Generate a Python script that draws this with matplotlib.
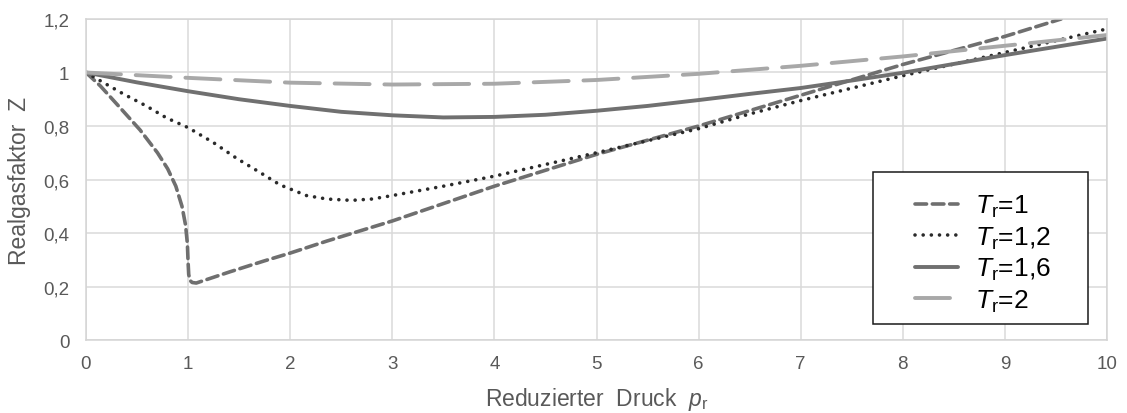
import matplotlib
matplotlib.use("Agg")
import matplotlib.pyplot as plt
from matplotlib.patches import Rectangle

plt.rcParams['font.family'] = ['Liberation Sans', 'DejaVu Sans']
plt.rcParams['mathtext.fontset'] = 'custom'
plt.rcParams['mathtext.rm'] = 'Liberation Sans'
plt.rcParams['mathtext.it'] = 'Liberation Sans:italic'

# values
x_tr1 = [0, 0.14, 0.33, 0.53, 0.7, 0.8, 0.88, 0.94, 0.975, 0.993, 1.0, 1.006, 1.02,
         1.04, 1.08, 1.41, 1.74, 2, 2.36, 3, 4, 5, 6, 7, 8, 9, 9.55]
z_tr1 = [1, 0.95, 0.87, 0.785, 0.70, 0.64, 0.575, 0.5, 0.43, 0.36, 0.29, 0.245,
         0.222, 0.215, 0.213, 0.255, 0.295, 0.325, 0.37, 0.445, 0.575, 0.694, 0.80,
         0.915, 1.03, 1.135, 1.2]

x_tr12 = [0, 0.17, 0.37, 0.59, 0.79, 1.0, 1.25, 1.48, 1.71, 1.9, 2.16, 2.36, 2.6,
          2.8, 3, 3.5, 4, 5, 6, 6.5, 7, 8, 9, 10]
z_tr12 = [1, 0.9625, 0.919, 0.875, 0.83, 0.794, 0.7375, 0.678, 0.625, 0.58, 0.54,
          0.527, 0.522, 0.527, 0.54, 0.575, 0.6125, 0.70, 0.79, 0.845, 0.895, 0.988,
          1.075, 1.163]

x_tr16 = [0, 0.5, 1, 1.5, 2, 2.5, 3, 3.5, 4, 4.5, 5, 5.5, 6, 6.5, 7, 7.5, 8, 8.5,
          9, 9.5, 10]
z_tr16 = [1, 0.963, 0.93, 0.9, 0.875, 0.853, 0.84, 0.832, 0.834, 0.842, 0.857,
          0.875, 0.897, 0.92, 0.942, 0.97, 0.999, 1.032, 1.065, 1.096, 1.127]

x_tr2 = [0, 1, 2, 3, 4, 5, 6, 7, 8, 9, 10]
z_tr2 = [1, 0.98, 0.962, 0.955, 0.958, 0.972, 0.995, 1.025, 1.06, 1.1, 1.14]

labels = [r'$T_\mathrm{r}$=1', r'$T_\mathrm{r}$=1,2', r'$T_\mathrm{r}$=1,6', r'$T_\mathrm{r}$=2']
x_ticks = [0, 1, 2, 3, 4, 5, 6, 7, 8, 9, 10]
y_ticks = [0, 0.2, 0.4, 0.6, 0.8, 1.0, 1.2]
y_ticklabels = ['0', '0,2', '0,4', '0,6', '0,8', '1', '1,2']

fig = plt.figure(figsize=(11.27, 4.14), dpi=100)
ax = fig.add_axes([0.0763, 0.1763, 0.9060, 0.7754])

ax.plot(x_tr1, z_tr1, color='#6f6f6f', lw=2.6, dashes=(3.2, 1.6),
        dash_capstyle='round', label=labels[0])
ax.plot(x_tr12, z_tr12, color='#2a2a2a', lw=2.6, dashes=(0.01, 2.25),
        dash_capstyle='round', label=labels[1])
ax.plot(x_tr16, z_tr16, color='#707070', lw=2.8, solid_capstyle='round', label=labels[2])
ax.plot(x_tr2, z_tr2, color='#a8a8a8', lw=2.8, dashes=(9, 3.8),
        dash_capstyle='round', label=labels[3])

ax.set_xlim(0, 10)
ax.set_ylim(0, 1.2)
ax.set_xticks(x_ticks)
ax.set_yticks(y_ticks)
ax.set_yticklabels(y_ticklabels)
ax.grid(True, color='#dadada', lw=1.1)
ax.set_axisbelow(True)
for s in ax.spines.values():
    s.set_color('#d4d4d4')
    s.set_linewidth(1.1)
ax.tick_params(length=0, labelsize=13.5, labelcolor='#595959')
ax.tick_params(axis='x', pad=11)
ax.tick_params(axis='y', pad=12)

ax.set_xlabel(r'Reduzierter  Druck  $p_\mathrm{r}$', fontsize=16.5, color='#595959', labelpad=9)
ax.set_ylabel('Realgasfaktor  Z', fontsize=16.5, color='#595959', labelpad=9)

# legend box drawn separately, entries placed inside
ax.add_patch(Rectangle((0.771, 0.050), 0.210, 0.473, transform=ax.transAxes,
                       facecolor='white', edgecolor='#1a1a1a', lw=1.1, zorder=5))
leg = ax.legend(loc='upper left', bbox_to_anchor=(0.812, 0.458), fontsize=19,
                frameon=False, handlelength=1.63, labelspacing=0.2, borderpad=0,
                borderaxespad=0, handletextpad=0.64)
leg.set_zorder(6)

fig.savefig('out.png', dpi=100)
